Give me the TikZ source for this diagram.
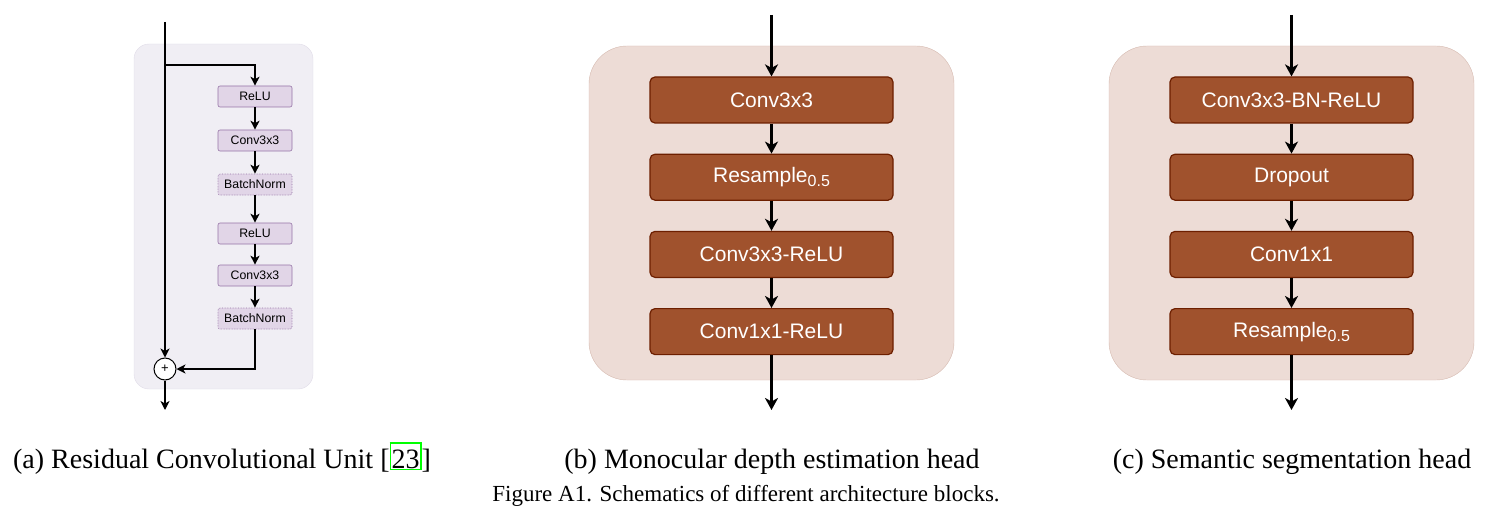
\documentclass[tikz,border=0pt]{standalone}
\usepackage{fontspec}
\setmainfont{Liberation Serif}
\setsansfont{Liberation Sans}
\usepackage{xcolor}
\usetikzlibrary{positioning,calc,arrows.meta}
\definecolor{rcuback}{RGB}{240,238,244}
\definecolor{rcuedge}{RGB}{224,220,232}
\definecolor{rcufill}{RGB}{225,213,231}
\definecolor{rculine}{RGB}{150,115,166}
\definecolor{headback}{RGB}{237,220,214}
\definecolor{headedge}{RGB}{214,186,176}
\definecolor{headfill}{RGB}{160,82,45}
\definecolor{headline}{RGB}{109,31,0}
\definecolor{linkgreen}{RGB}{0,255,0}
\tikzset{
  rcu/.style={draw=rculine, fill=rcufill, rounded corners=2pt, line width=0.6pt,
    minimum width=74pt, minimum height=21pt, inner sep=0pt,
    font=\sffamily\fontsize{12.3}{14}\selectfont},
  rcunorm/.style={rcu, densely dotted},
  head/.style={draw=headline, fill=headfill, text=white, rounded corners=5pt, line width=1.2pt,
    minimum width=243pt, minimum height=46pt, inner sep=0pt,
    font=\sffamily\fontsize{21}{24}\selectfont},
  flowa/.style={line width=1.4pt, -{Stealth[length=9pt,width=9pt,inset=2.5pt]}},
  flowb/.style={line width=2.2pt, -{Stealth[length=12pt,width=13pt,inset=3.5pt]}},
  subcap/.style={anchor=base, inner sep=0pt, font=\fontsize{28}{32}\selectfont},
}
\newcommand{\halfsub}{\raisebox{-4pt}{\fontsize{16}{18}\selectfont 0.5}}

\begin{document}
\begin{tikzpicture}[x=1pt, y=-1pt]
    \useasboundingbox (0,0) rectangle (1493,516);

    % (a) residual convolutional unit
    \draw[fill=rcuback, draw=rcuedge, rounded corners=15pt] (134,44) rectangle (313,389);
    \node[rcu] (relua) at (255,96.5) {ReLU};
    \node[rcu] (conva) at (255,140.5) {Conv3x3};
    \node[rcunorm] (norma) at (255,184.5) {BatchNorm};
    \node[rcu] (relub) at (255,233.5) {ReLU};
    \node[rcu] (convb) at (255,275.5) {Conv3x3};
    \node[rcunorm] (normb) at (255,318.5) {BatchNorm};
    \node[circle, draw, fill=white, line width=1pt, minimum size=22pt, inner sep=0pt,
      font=\sffamily\fontsize{13}{14}\selectfont] (sum) at (165,369) {+};
    \coordinate (ain) at (165,22);
    \coordinate (asplit) at (165,65);
    \coordinate (aout) at (165,410);
    \draw[flowa] (ain) -- (sum);
    \draw[flowa] (asplit) -| (relua.north);
    \draw[flowa] (relua) -- (conva);
    \draw[flowa] (conva) -- (norma);
    \draw[flowa] (norma) -- (relub);
    \draw[flowa] (relub) -- (convb);
    \draw[flowa] (convb) -- (normb);
    \draw[flowa] (normb.south) |- (sum.east);
    \draw[flowa] (sum) -- (aout);

    % (b) monocular depth estimation head
    \draw[fill=headback, draw=headedge, rounded corners=38pt] (589,46) rectangle (954,380);
    \node[head] (depthc) at (771.5,100) {Conv3x3};
    \node[head, below=30pt of depthc] (depthr) {Resample\halfsub};
    \node[head, below=30pt of depthr] (depthcr) {Conv3x3-ReLU};
    \node[head, below=30pt of depthcr] (depthp) {Conv1x1-ReLU};
    \coordinate (bin) at (771.5,15);
    \coordinate (bout) at (771.5,410);
    \draw[flowb] (bin) -- (depthc);
    \draw[flowb] (depthc) -- (depthr);
    \draw[flowb] (depthr) -- (depthcr);
    \draw[flowb] (depthcr) -- (depthp);
    \draw[flowb] (depthp) -- (bout);

    % (c) semantic segmentation head
    \draw[fill=headback, draw=headedge, rounded corners=38pt] (1109,46) rectangle (1474,380);
    \node[head] (segc) at (1291.5,100) {Conv3x3-BN-ReLU};
    \node[head, below=30pt of segc] (segd) {Dropout};
    \node[head, below=30pt of segd] (segp) {Conv1x1};
    \node[head, below=30pt of segp] (segr) {Resample\halfsub};
    \coordinate (cin) at (1291.5,15);
    \coordinate (cout) at (1291.5,410);
    \draw[flowb] (cin) -- (segc);
    \draw[flowb] (segc) -- (segd);
    \draw[flowb] (segd) -- (segp);
    \draw[flowb] (segp) -- (segr);
    \draw[flowb] (segr) -- (cout);

    % captions
    \node[subcap] (capa) at (222,468) {(a) Residual Convolutional Unit
      [{\setlength{\fboxsep}{0.5pt}\setlength{\fboxrule}{1.5pt}\fcolorbox{linkgreen}{white}{\rule{0pt}{24pt}23}}]};
    \node[subcap] (capb) at (772,468) {(b) Monocular depth estimation head};
    \node[subcap] (capc) at (1292,468) {(c) Semantic segmentation head};
    \node[anchor=base, inner sep=0pt, font=\fontsize{23}{26}\selectfont] (figcap) at (746,501)
      {Figure A1. Schematics of different architecture blocks.};
\end{tikzpicture}
\end{document}
